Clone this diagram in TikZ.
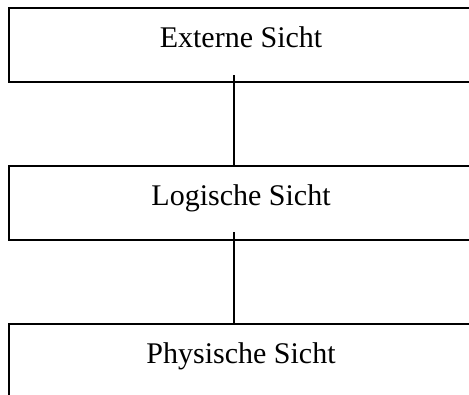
\documentclass[tikz,border=0pt]{standalone}
\usepackage{fontspec}
\setmainfont{Liberation Serif}
\usetikzlibrary{positioning,calc}

\tikzset{
  sicht/.style={draw, line width=1.5pt, rectangle, minimum width=520pt, minimum height=74pt, anchor=north west, inner sep=0pt},
  titel/.style={font=\fontsize{30}{36}\selectfont, inner sep=0pt, anchor=base},
}

\begin{document}
\begin{tikzpicture}[x=1pt, y=-1pt]
    \useasboundingbox (0,0) rectangle (469,394);
    \clip (0,0) rectangle (469,394);

    % Boxes
    \node[sicht] (extern) at (8,7) {};
    \node[sicht] (logisch) at (8,165) {};
    \node[sicht] (physisch) at (8,323) {};

    % Titles
    \node[titel] (textextern) at (241,47) {Externe Sicht};
    \node[titel] (textlogisch) at (241,205) {Logische Sicht};
    \node[titel] (textphysisch) at (241,363) {Physische Sicht};

    % Connectors
    \coordinate (c1) at (234,75);
    \coordinate (c2) at (234,232);
    \draw[line width=1.3pt] (c1) -- (c1 |- logisch.north);
    \draw[line width=1.3pt] (c2) -- (c2 |- physisch.north);
\end{tikzpicture}
\end{document}
